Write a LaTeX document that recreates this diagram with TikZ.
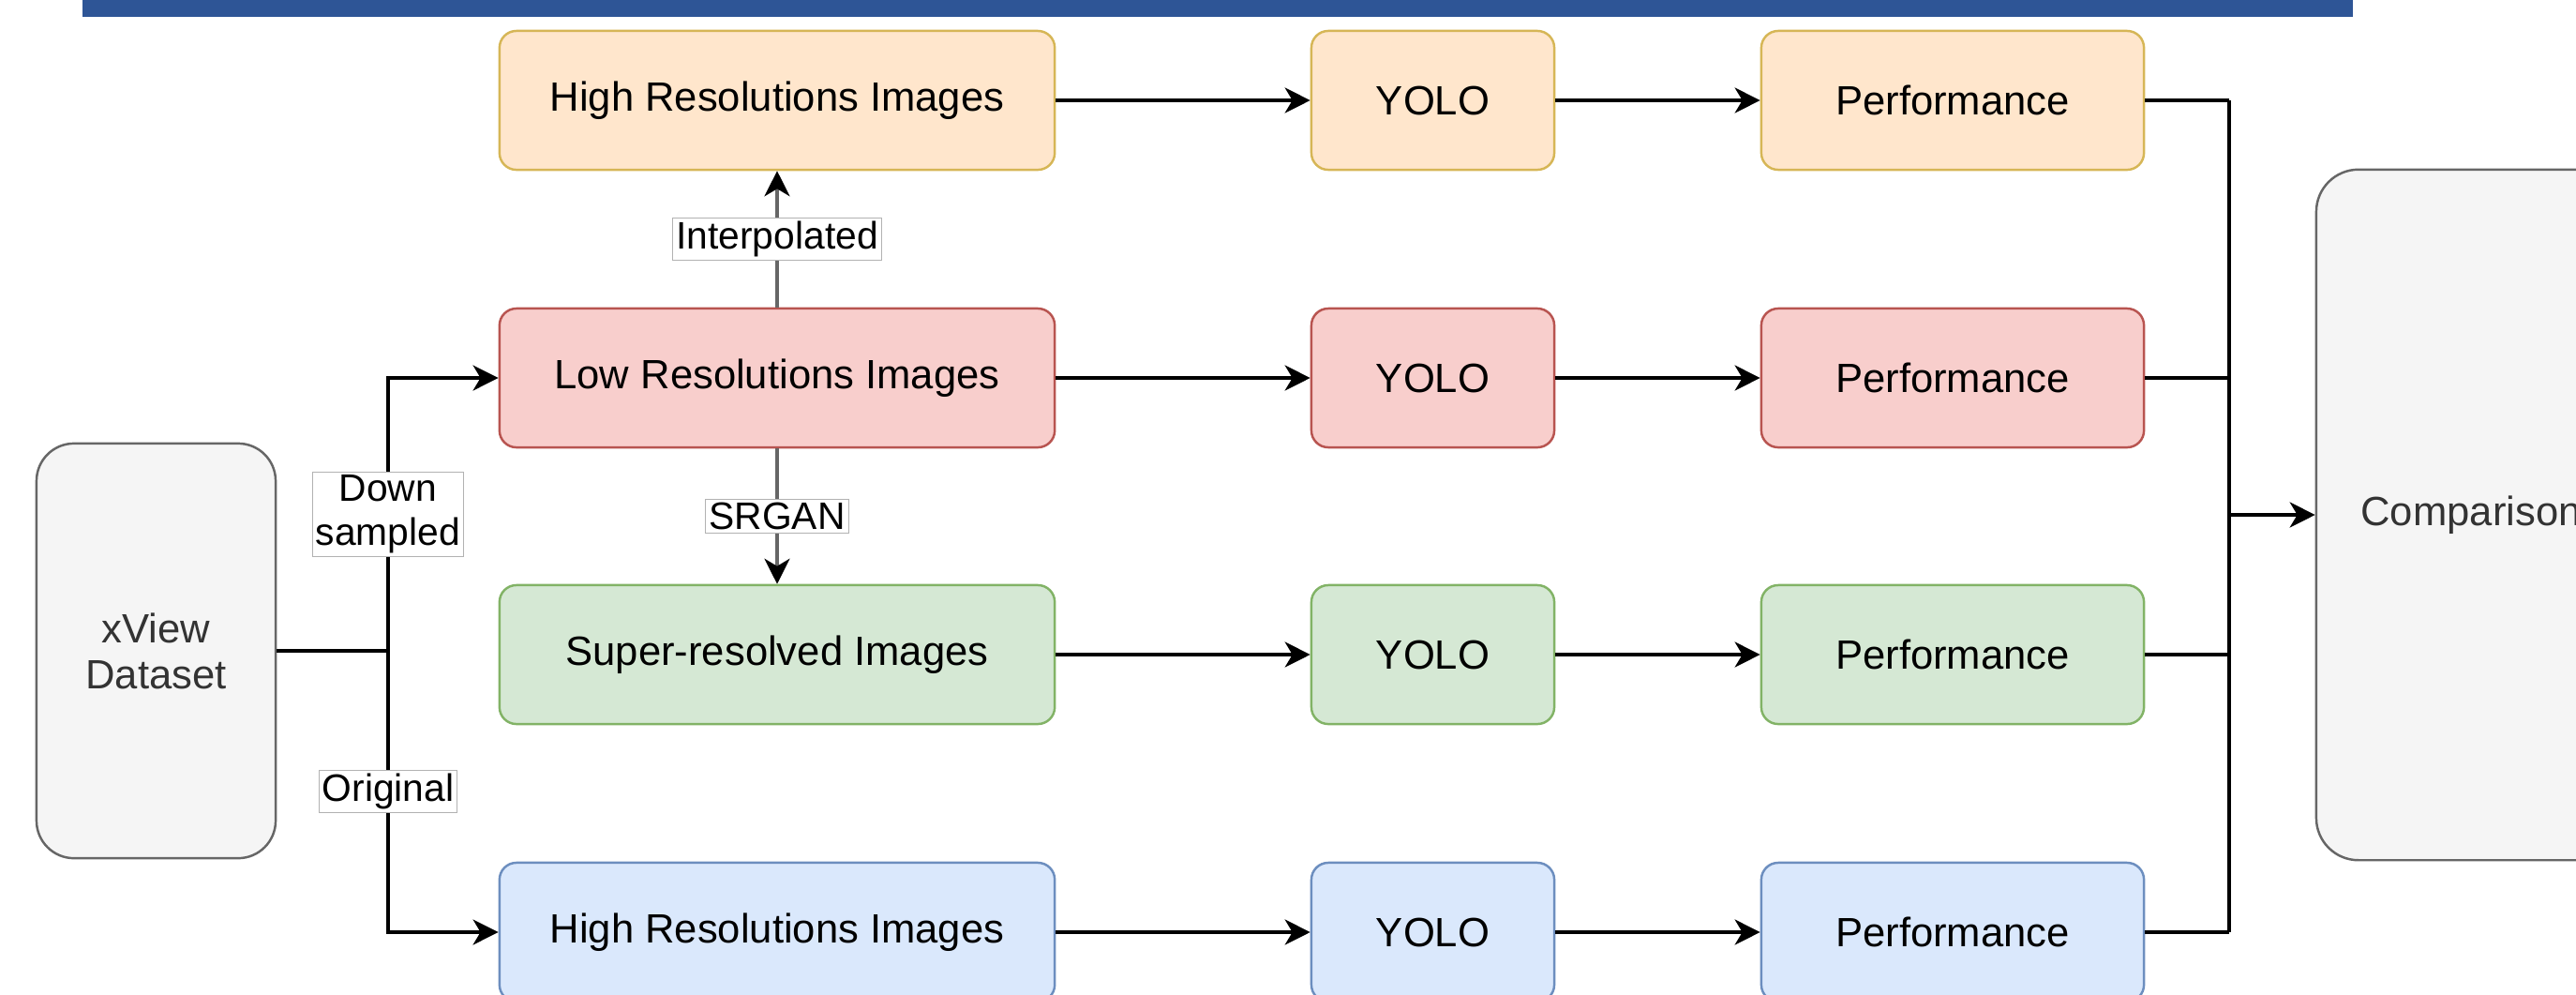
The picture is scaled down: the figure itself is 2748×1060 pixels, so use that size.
\documentclass[tikz,border=0pt]{standalone}
\usepackage{fontspec}
\setmainfont{Liberation Sans}
\usetikzlibrary{arrows.meta}
\definecolor{orfill}{HTML}{FFE6CC}\definecolor{ordraw}{HTML}{D6B656}
\definecolor{rdfill}{HTML}{F8CECC}\definecolor{rddraw}{HTML}{B85450}
\definecolor{grfill}{HTML}{D5E8D4}\definecolor{grdraw}{HTML}{82B366}
\definecolor{blfill}{HTML}{DAE8FC}\definecolor{bldraw}{HTML}{6C8EBF}
\definecolor{gyfill}{HTML}{F5F5F5}\definecolor{gydraw}{HTML}{666666}
\definecolor{gytext}{HTML}{333333}
\definecolor{barblue}{HTML}{2E5596}
\begin{document}
\begin{tikzpicture}[x=0.01cm,y=-0.01cm,
	box/.style={draw, line width=0.7pt, rounded corners=0.18cm, minimum height=1.48cm, inner sep=0pt, font=\fontsize{12.4}{14.8}\selectfont},
	imgbox/.style={box, minimum width=5.92cm},
	yolobox/.style={box, minimum width=2.59cm},
	perfbox/.style={box, minimum width=4.08cm},
	graybox/.style={draw=gydraw, fill=gyfill, text=gytext, line width=0.7pt, inner sep=0pt, align=center, font=\fontsize{12.4}{13.9}\selectfont},
	lbl/.style={fill=white, draw=gray!60, line width=0.3pt, inner sep=1pt, align=center, font=\fontsize{11.6}{13.4}\selectfont},
	arr/.style={-{Stealth[length=0.27cm,width=0.27cm,inset=0.08cm,color=black]}, line width=0.9pt},
	line/.style={line width=0.9pt}]
	\useasboundingbox (0,0) rectangle (2748,1060);
	\clip (0,0) rectangle (2748,1060);

	\fill[barblue] (88,0) rectangle (2510,18);

	\node[graybox, minimum width=2.55cm, minimum height=4.42cm, rounded corners=0.4cm] (data) at (166.5,694) {xView\\Dataset};
	\node[graybox, minimum width=3.3cm, minimum height=7.36cm, rounded corners=0.45cm] (cmp) at (2636,549) {Comparison};

	\node[imgbox, fill=orfill, draw=ordraw] (img1) at (829,107) {High Resolutions Images};
	\node[imgbox, fill=rdfill, draw=rddraw] (img2) at (829,403) {Low Resolutions Images};
	\node[imgbox, fill=grfill, draw=grdraw] (img3) at (829,698) {Super-resolved Images};
	\node[imgbox, fill=blfill, draw=bldraw] (img4) at (829,994) {High Resolutions Images};

	\foreach \r/\c in {1/or,2/rd,3/gr,4/bl}{
		\node[yolobox, fill=\c fill, draw=\c draw] (yolo\r) at (1528.5,0 |- img\r) {YOLO};
		\node[perfbox, fill=\c fill, draw=\c draw] (perf\r) at (2083,0 |- img\r) {Performance};
		\draw[arr] (img\r) -- (yolo\r);
		\draw[arr] (yolo\r) -- (perf\r);
	}

	\draw[arr, draw=gray!80!black] (img2) -- node[lbl]{Interpolated} (img1);
	\draw[arr, draw=gray!80!black] (img2) -- node[lbl]{SRGAN} (img3);

	\coordinate (split) at (414,694);
	\draw[line] (data.east) -- (split);
	\draw[arr] (split) -- node[lbl]{Down\\sampled} (split |- img2.west) -- (img2.west);
	\draw[arr] (split) -- node[lbl]{Original} (split |- img4.west) -- (img4.west);

	\coordinate (merge) at (2378,549);
	\foreach \r in {1,...,4}
		\draw[line] (perf\r.east) -- (merge |- perf\r.east);
	\draw[line] (merge |- perf1.east) -- (merge |- perf4.east);
	\draw[arr] (merge) -- (cmp.west);
\end{tikzpicture}
\end{document}
